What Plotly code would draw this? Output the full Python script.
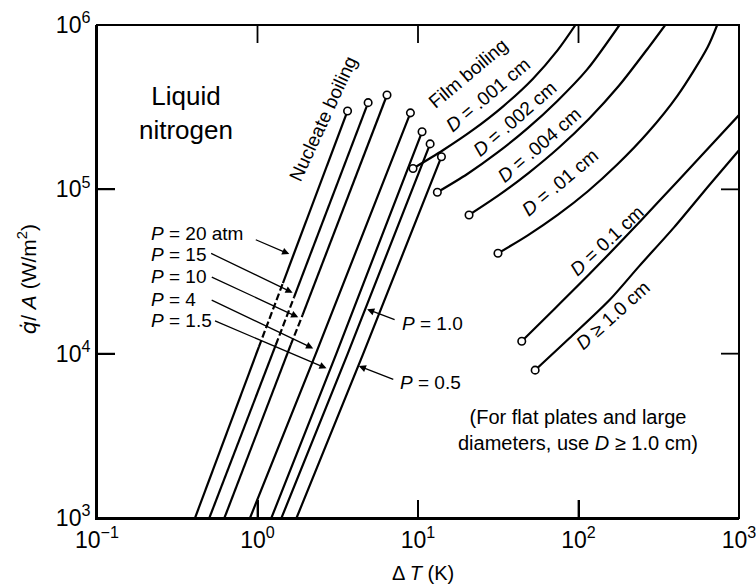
import math
import plotly.graph_objects as go

# ---- Nucleate boiling: wall superheat dT (K) vs heat flux q/A (W/m^2) ----
# Each line: bottom point, ends of the dashed stretch (if any), and the burnout point.
p20_dT = [0.408, 1.02, 1.44, 3.64]
p20_q = [1.0e3, 1.10e4, 2.69e4, 3.00e5]
p15_dT = [0.501, 1.30, 1.69, 4.89]
p15_q = [1.0e3, 1.13e4, 2.21e4, 3.37e5]
p10_dT = [0.622, 1.61, 1.91, 6.41]
p10_q = [1.0e3, 1.13e4, 1.72e4, 3.75e5]
p4_dT = [0.898, 2.31, 8.97]
p4_q = [1.0e3, 1.0e4, 2.92e5]
p1_5_dT = [1.22, 3.10, 10.6]
p1_5_q = [1.0e3, 1.0e4, 2.24e5]
p1_0_dT = [1.41, 3.65, 11.9]
p1_0_q = [1.0e3, 1.0e4, 1.89e5]
p0_5_dT = [1.75, 4.56, 14.0]
p0_5_q = [1.0e3, 1.0e4, 1.58e5]

# index pair (start, end) of the dashed stretch for each pressure line, None if fully solid
dashed_span = [(1, 2), (1, 2), (1, 2), None, None, None, None]

# ---- Film boiling on horizontal wires of diameter D ----
d001_dT = [9.31, 14.3, 22.0, 33.8, 51.9, 74.2, 95.7]
d001_q = [1.34e5, 1.73e5, 2.30e5, 3.19e5, 4.70e5, 7.03e5, 1.0e6]
d002_dT = [13.2, 20.3, 31.2, 47.9, 73.6, 113, 180]
d002_q = [9.6e4, 1.24e5, 1.67e5, 2.34e5, 3.44e5, 5.35e5, 1.0e6]
d004_dT = [20.8, 31.9, 49.0, 75.3, 116, 178, 273, 347]
d004_q = [6.98e4, 9.21e4, 1.26e5, 1.79e5, 2.68e5, 4.25e5, 7.29e5, 1.0e6]
d01_dT = [31.5, 48.3, 74.2, 114, 175, 269, 414, 636, 731]
d01_q = [4.08e4, 5.25e4, 6.99e4, 9.70e4, 1.42e5, 2.20e5, 3.72e5, 7.30e5, 1.0e6]
d1_dT = [44.3, 70.8, 117, 193, 318, 565, 1000]
d1_q = [1.19e4, 1.87e4, 3.05e4, 5.05e4, 8.49e4, 1.55e5, 2.83e5]
d10_dT = [53.7, 87.7, 156, 239, 395, 652, 1000]
d10_q = [7.94e3, 1.24e4, 2.12e4, 3.41e4, 5.89e4, 1.06e5, 1.73e5]

x_range_log = [-1, 3]
y_range_log = [3, 6]
x_tickvals = [0.1, 1, 10, 100, 1000]
x_ticktext = ["10<sup>\u22121</sup>", "10<sup>0</sup>", "10<sup>1</sup>", "10<sup>2</sup>", "10<sup>3</sup>"]
y_tickvals = [1e3, 1e4, 1e5, 1e6]
y_ticktext = ["10<sup>3</sup>", "10<sup>4</sup>", "10<sup>5</sup>", "10<sup>6</sup>"]

FONT = "Liberation Sans, Arial, Helvetica, sans-serif"
LW = 2.2
TICKLEN = 18
TICKW = 1.8
PLOT_W = 756 - 97 - 17
PLOT_H = 586 - 25 - 68

nb_lines = [(p20_dT, p20_q), (p15_dT, p15_q), (p10_dT, p10_q), (p4_dT, p4_q),
            (p1_5_dT, p1_5_q), (p1_0_dT, p1_0_q), (p0_5_dT, p0_5_q)]
fb_lines = [(d001_dT, d001_q), (d002_dT, d002_q), (d004_dT, d004_q),
            (d01_dT, d01_q), (d1_dT, d1_q), (d10_dT, d10_q)]

fig = go.Figure()


def add_line(x, y, dash="solid", shape="linear"):
    fig.add_trace(go.Scatter(x=x, y=y, mode="lines", hoverinfo="skip",
                             line=dict(color="black", width=LW, dash=dash,
                                       shape=shape, smoothing=0.8)))


for (dT, q), span in zip(nb_lines, dashed_span):
    if span is None:
        add_line(dT, q)
    else:
        a, b = span
        add_line(dT[:a + 1], q[:a + 1])
        add_line(dT[a:b + 1], q[a:b + 1], dash="7px,3px")
        add_line(dT[b:], q[b:])

for dT, q in fb_lines:
    add_line(dT, q, shape="spline")

# open circles: burnout points of nucleate boiling, onset points of film boiling
mx = [dT[-1] for dT, _ in nb_lines] + [dT[0] for dT, _ in fb_lines]
my = [q[-1] for _, q in nb_lines] + [q[0] for _, q in fb_lines]
fig.add_trace(go.Scatter(x=mx, y=my, mode="markers", hoverinfo="skip",
                         marker=dict(size=7.5, color="white",
                                     line=dict(color="black", width=1.6))))

axis_common = dict(type="log", showgrid=False, zeroline=False, showline=True,
                   linecolor="black", linewidth=2, ticks="inside", ticklen=TICKLEN,
                   tickwidth=TICKW, tickcolor="black", tickmode="array",
                   ticklabeloverflow="allow", automargin=False,
                   tickfont=dict(family=FONT, size=23, color="black"))
fig.update_xaxes(range=x_range_log, tickvals=x_tickvals, ticktext=x_ticktext, **axis_common)
fig.update_yaxes(range=y_range_log, tickvals=y_tickvals, ticktext=y_ticktext, **axis_common)

# plot frame with inward decade ticks on all four sides
tick_style = dict(color="black", width=TICKW)
fig.add_shape(type="rect", xref="paper", yref="paper", x0=0, y0=0, x1=1, y1=1,
              line=dict(color="black", width=2), layer="above")
for xv in x_tickvals[1:-1]:
    fx = (math.log10(xv) - x_range_log[0]) / (x_range_log[1] - x_range_log[0])
    for y0, y1 in [(0, TICKLEN / PLOT_H), (1, 1 - TICKLEN / PLOT_H)]:
        fig.add_shape(type="line", xref="paper", yref="paper", x0=fx, x1=fx,
                      y0=y0, y1=y1, line=tick_style, layer="above")
for yv in y_tickvals[1:-1]:
    fy = (math.log10(yv) - y_range_log[0]) / (y_range_log[1] - y_range_log[0])
    for x0, x1 in [(0, TICKLEN / PLOT_W), (1, 1 - TICKLEN / PLOT_W)]:
        fig.add_shape(type="line", xref="paper", yref="paper", x0=x0, x1=x1,
                      y0=fy, y1=fy, line=tick_style, layer="above")

ann = []


def text(x, y, s, size=19, angle=0, xanchor="center"):
    ann.append(dict(xref="paper", yref="paper", x=x, y=y, text=s, showarrow=False,
                    textangle=angle, xanchor=xanchor, yanchor="middle",
                    font=dict(family=FONT, size=size, color="black")))


def arrow(lx, ly, ax, ay):
    ann.append(dict(xref="x", yref="y", x=lx, y=ly, ax=ax, ay=ay, text="",
                    showarrow=True, arrowhead=2, arrowsize=1.1, arrowwidth=1.3,
                    arrowcolor="black", standoff=0))


text(0.138, 0.8215, "Liquid<br>nitrogen", size=26)
text(0.352, 0.811, "Nucleate boiling", size=19, angle=-65)
text(0.578, 0.902, "Film boiling", size=19, angle=-40)
text(0.609, 0.860, "<i>D</i> = .001 cm", size=19, angle=-40)
text(0.651, 0.811, "<i>D</i> = .002 cm", size=19, angle=-41)
text(0.690, 0.757, "<i>D</i> = .004 cm", size=19, angle=-41)
text(0.721, 0.680, "<i>D</i> = .01 cm", size=19, angle=-40)
text(0.795, 0.562, "<i>D</i> = 0.1 cm", size=19, angle=-43)
text(0.803, 0.411, "<i>D</i> \u2265 1.0 cm", size=19, angle=-42)

for yy, lab in zip([0.5775, 0.535, 0.4895, 0.4436, 0.4016],
                   ["20 atm", "15", "10", "4", "1.5"]):
    text(0.0814, yy, "<i>P</i> = " + lab, size=19, xanchor="left")
text(0.472, 0.3955, "<i>P</i> = 1.0", size=19, xanchor="left")
text(0.469, 0.274, "<i>P</i> = 0.5", size=19, xanchor="left")

arrow(0.198, 4.606, -35, -15)
arrow(0.219, 4.371, -83, -40)
arrow(0.254, 4.221, -88, -41)
arrow(0.347, 4.032, -103, -49)
arrow(0.430, 3.911, -113, -48)
arrow(0.683, 4.270, 29, 11)
arrow(0.631, 3.925, 36, 14)

text(0.749, 0.1785, "(For flat plates and large<br>diameters, use <i>D</i> \u2265 1.0 cm)", size=20)

# axis titles
text(0.508, -0.1116, "\u0394 <i>T</i> (K)", size=20)
text(-0.107, 0.485,
     "<span style=\"font-family:DejaVu Sans\"><i>q\u0307</i></span>/ <i>A</i> (W/m<sup>2</sup>)",
     size=21, angle=-90)

fig.update_layout(width=756, height=586, margin=dict(l=97, r=17, t=25, b=68),
                  plot_bgcolor="white", paper_bgcolor="white", showlegend=False,
                  font=dict(family=FONT, color="black"), annotations=ann)

fig.write_html("out.html")
